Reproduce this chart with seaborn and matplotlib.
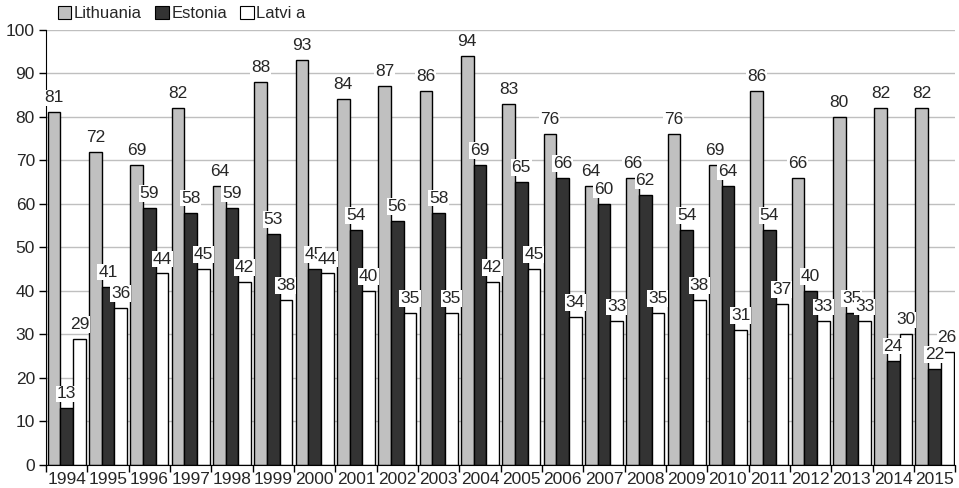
import matplotlib
matplotlib.use("Agg")
import pandas as pd
import seaborn as sns
from matplotlib import pyplot as plt
from matplotlib.patches import Patch
from matplotlib.ticker import FixedLocator, MultipleLocator

years = list(range(1994, 2016))
lithuania = [81, 72, 69, 82, 64, 88, 93, 84, 87, 86, 94, 83, 76, 64, 66, 76, 69, 86, 66, 80, 82, 82]
estonia = [13, 41, 59, 58, 59, 53, 45, 54, 56, 58, 69, 65, 66, 60, 62, 54, 64, 54, 40, 35, 24, 22]
latvia = [29, 36, 44, 45, 42, 38, 44, 40, 35, 35, 42, 45, 34, 33, 35, 38, 31, 37, 33, 33, 30, 26]
countries = ["Lithuania", "Estonia", "Latvi a"]
colors = ["#C0C0C0", "#333333", "#FFFFFF"]

df = pd.DataFrame({
    "year": [str(y) for y in years] * 3,
    "value": lithuania + estonia + latvia,
    "country": [c for c in countries for _ in years],
})

sns.set_style("white")
plt.rcParams["font.family"] = ["Liberation Sans", "DejaVu Sans"]

fig = plt.figure(figsize=(9.59, 4.88), dpi=100)
ax = fig.add_axes([0.048, 0.0471, 0.948, 0.892])

sns.barplot(data=df, x="year", y="value", hue="country", palette=colors,
            width=0.92, edgecolor="black", linewidth=1, legend=False, ax=ax)

for cont in ax.containers:
    ax.bar_label(cont, fmt="%d", padding=5, fontsize=12.5,
                 bbox=dict(facecolor="white", edgecolor="none", pad=0.6))

ax.set_ylim(0, 100)
ax.set_xlim(-0.5, len(years) - 0.5)
ax.yaxis.set_major_locator(MultipleLocator(10))
ax.yaxis.grid(True, color="#BFBFBF", linewidth=1)
ax.set_axisbelow(True)
ax.set_xlabel("")
ax.set_ylabel("")

ax.xaxis.set_minor_locator(FixedLocator([i - 0.5 for i in range(len(years) + 1)]))
ax.tick_params(axis="x", which="major", length=0, labelsize=12.5, pad=5)
ax.tick_params(axis="x", which="minor", length=5, width=1, color="black", bottom=True)
ax.tick_params(axis="y", length=5, width=1, color="black", left=True, labelsize=12.5, pad=3)

for s in ["top", "right"]:
    ax.spines[s].set_visible(False)
ax.spines["left"].set_color("black")
ax.spines["bottom"].set_color("black")

handles = [Patch(facecolor=c, edgecolor="black", linewidth=0.8) for c in colors]
fig.legend(handles, countries, loc="upper left", bbox_to_anchor=(0.045, 1.018),
           ncol=3, frameon=False, fontsize=12, handlelength=0.8, handleheight=0.8,
           handletextpad=0.15, columnspacing=0.8)

fig.savefig("out.png", dpi=100)
